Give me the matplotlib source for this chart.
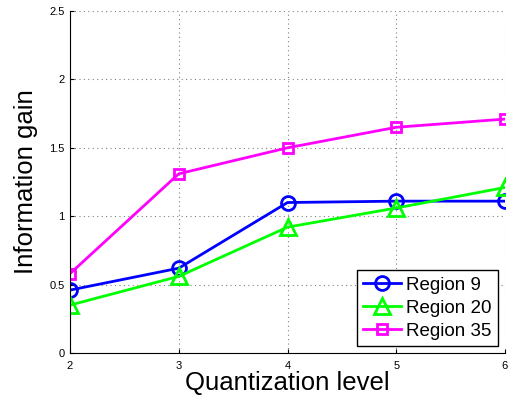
import matplotlib
matplotlib.use("Agg")
import matplotlib.pyplot as plt

levels = [2, 3, 4, 5, 6]
region9 = [0.46, 0.62, 1.10, 1.11, 1.11]
region20 = [0.35, 0.56, 0.92, 1.06, 1.21]
region35 = [0.58, 1.31, 1.50, 1.65, 1.71]
series_labels = ["Region 9", "Region 20", "Region 35"]
yticks = [0, 0.5, 1, 1.5, 2, 2.5]
ytick_labels = ["0", "0.5", "1", "1.5", "2", "2.5"]

plt.rcParams['font.family'] = ['Liberation Sans', 'DejaVu Sans']

fig = plt.figure(figsize=(5.13, 4.03), dpi=100)
ax = fig.add_axes([70/513, 50/403, 435/513, 342/403])

ax.plot(levels, region9, color=(0, 0, 1), lw=2, marker='o', ms=10,
        mfc='none', mew=2, label=series_labels[0])
ax.plot(levels, region20, color=(0, 1, 0), lw=2, marker='^', ms=11,
        mfc='none', mew=2, label=series_labels[1])
ax.plot(levels, region35, color=(1, 0, 1), lw=2, marker='s', ms=7.5,
        mfc='none', mew=2, label=series_labels[2])

ax.set_xlim(2, 6)
ax.set_ylim(0, 2.5)
ax.set_xticks(levels)
ax.set_yticks(yticks)
ax.set_yticklabels(ytick_labels)
ax.tick_params(direction='in', length=3, labelsize=8)
ax.tick_params(axis='x', pad=6)
ax.tick_params(axis='y', pad=4)
ax.spines['top'].set_visible(False)
ax.spines['right'].set_visible(False)
ax.grid(True, linestyle=(0, (1, 3)), color='#808080', linewidth=0.8)

ax.set_xlabel("Quantization level", fontsize=18.5, labelpad=0)
ax.set_ylabel("Information gain", fontsize=18.5, labelpad=8)

leg = ax.legend(loc='lower right', fontsize=13.5, frameon=True, fancybox=False,
                edgecolor='black', framealpha=1, handlelength=2.0,
                borderpad=0.35, labelspacing=0.32, handletextpad=0.3,
                borderaxespad=0.35)
leg.get_frame().set_linewidth(1.0)

fig.savefig("out.png", dpi=100)
